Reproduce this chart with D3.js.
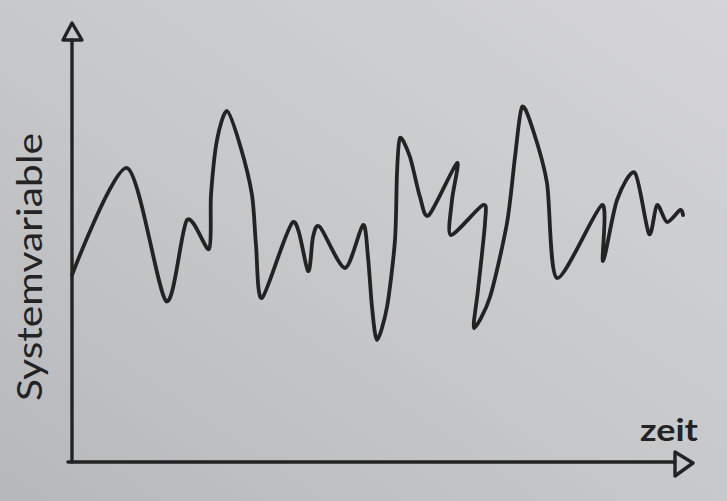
<!DOCTYPE html>
<html>
<head>
<meta charset="utf-8">
<script src="https://cdn.jsdelivr.net/npm/d3@7"></script>
<style>
html,body{margin:0;padding:0;background:#c8c9cb;}
svg{display:block;}
</style>
</head>
<body>
<svg id="chart" width="727" height="501"></svg>
<script>
// Data (time units, system variable units)
const time  = [0, 5.5, 9.4, 11.5, 13.7, 13.9, 14.5, 15.5, 16.8, 18.0, 18.4, 19.0, 22.1, 23.6, 24.1, 24.8, 27.3, 29.1, 29.6, 30.0, 30.5, 31.5, 32.3, 32.5, 32.8, 33.8, 34.8, 35.7, 38.5, 38.0, 37.9, 41.1, 41.3, 40.6, 40.2, 41.8, 43.5, 44.3, 45.0, 46.1, 47.5, 48.5, 53.0, 53.1, 54.5, 56.3, 57.7, 58.5, 59.5, 60.8, 61.1];
const value = [18.7, 29.4, 16.1, 24.2, 21.3, 26.7, 32.2, 35.1, 31.7, 26.7, 21.7, 16.4, 24.0, 19.1, 22.5, 23.5, 19.4, 23.7, 20.5, 15.5, 12.2, 15.5, 22.2, 28.9, 32.4, 30.5, 26.5, 24.7, 29.9, 26.2, 22.7, 25.7, 23.9, 17.2, 13.4, 16.5, 23.9, 30.5, 35.5, 33.2, 27.9, 18.4, 25.7, 20.1, 26.2, 28.9, 22.8, 25.7, 24.0, 25.2, 24.7];
const xLabel = "zeit";
const yLabel = "Systemvariable";
const xDomain = [0, 61.8];
const yDomain = [0, 42.2];

const svg = d3.select("#chart");
const W = 727, H = 501;

// paper background
const defs = svg.append("defs");
const g1 = defs.append("linearGradient").attr("id","paper")
  .attr("x1","0%").attr("y1","100%").attr("x2","100%").attr("y2","0%");
g1.append("stop").attr("offset","0%").attr("stop-color","#b6b8bb");
g1.append("stop").attr("offset","45%").attr("stop-color","#c6c7c9");
g1.append("stop").attr("offset","100%").attr("stop-color","#d5d5d7");
svg.append("rect").attr("width",W).attr("height",H).attr("fill","url(#paper)");

const x = d3.scaleLinear().domain(xDomain).range([72, 690]);
const y = d3.scaleLinear().domain(yDomain).range([462, 40]);

const ink = "#232323";

// axes
const ax = svg.append("g").attr("fill","none").attr("stroke",ink)
  .attr("stroke-width",3.4).attr("stroke-linejoin","round").attr("stroke-linecap","round");
ax.append("line").attr("x1",x(0)).attr("y1",y(0)).attr("x2",x(0)).attr("y2",y(yDomain[1]));
ax.append("path").attr("d",
  `M${x(0)},${y(yDomain[1])-17} L${x(0)-9},${y(yDomain[1])} L${x(0)+10},${y(yDomain[1])} Z`);
ax.append("line").attr("x1",x(0)-4).attr("y1",y(0)).attr("x2",x(xDomain[1])-15).attr("y2",y(0));
ax.append("path").attr("d",
  `M${x(xDomain[1])-15},${y(0)-10} L${x(xDomain[1])+3},${y(0)+1} L${x(xDomain[1])-15},${y(0)+14} Z`);

// series
const pts = time.map((t,i)=>[t, value[i]]);
const line = d3.line().x(d=>x(d[0])).y(d=>y(d[1])).curve(d3.curveCardinal.tension(0.2));
svg.append("path").datum(pts).attr("d",line)
  .attr("fill","none").attr("stroke",ink).attr("stroke-width",3.8)
  .attr("stroke-linejoin","round").attr("stroke-linecap","round");

// labels
svg.append("text").text(xLabel)
  .attr("x",669).attr("y",441).attr("text-anchor","middle")
  .attr("font-family","Lato, sans-serif").attr("font-size",30).attr("font-weight","bold")
  .attr("textLength",58).attr("lengthAdjust","spacingAndGlyphs")
  .attr("fill",ink);
svg.append("text").text(yLabel)
  .attr("transform","translate(42,267) rotate(-90)")
  .attr("text-anchor","middle")
  .attr("font-family","Lato, sans-serif").attr("font-size",35)
  .attr("textLength",268).attr("lengthAdjust","spacingAndGlyphs")
  .attr("fill",ink);
</script>
</body>
</html>
